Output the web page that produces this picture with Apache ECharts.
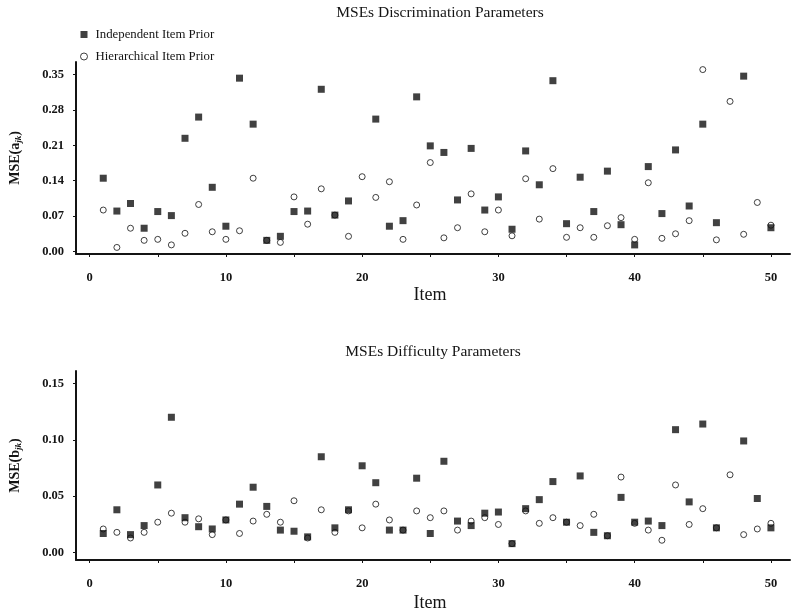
<!DOCTYPE html>
<html>
<head>
<meta charset="utf-8">
<script src="https://cdn.jsdelivr.net/npm/echarts@6/dist/echarts.min.js"></script>
<style>
  html, body { margin: 0; padding: 0; background: #fff; }
  #chart { width: 792px; height: 613px; }
</style>
</head>
<body>
<div id="chart"></div>
<script>
// Item numbers on the horizontal axes
const items = [1,2,3,4,5,6,7,8,9,10,11,12,13,14,15,16,17,18,19,20,
               21,22,23,24,25,26,27,28,29,30,31,32,33,34,35,36,37,38,39,40,
               41,42,43,44,45,46,47,48,49,50];

// MSE of discrimination parameters a_jk (null = not plotted)
const discIndependent = [0.145,0.080,0.095,0.046,0.079,0.071,0.224,0.266,0.127,0.050,
                         0.343,0.252,0.022,0.030,0.079,0.080,0.321,0.072,0.100,null,
                         0.262,0.050,0.061,0.306,0.209,0.196,0.102,0.204,0.082,0.108,
                         0.044,0.199,0.132,0.338,0.055,0.147,0.079,0.159,0.053,0.013,
                         0.168,0.075,0.201,0.090,0.252,0.057,null,0.347,null,0.047];
const discHierarchical = [0.082,0.008,0.046,0.022,0.024,0.013,0.036,0.093,0.039,0.024,
                          0.041,0.145,0.022,0.018,0.108,0.054,0.124,0.072,0.030,0.148,
                          0.107,0.138,0.024,0.092,0.176,0.027,0.047,0.114,0.039,0.082,
                          0.031,0.144,0.064,0.164,0.028,0.047,0.028,0.051,0.067,0.024,
                          0.136,0.026,0.035,0.061,0.360,0.023,0.297,0.034,0.097,0.052];

// MSE of difficulty parameters b_jk
const diffIndependent = [0.017,0.038,0.016,0.024,0.060,0.120,0.031,0.023,0.021,0.029,
                         0.043,0.058,0.041,0.020,0.019,0.014,0.085,0.022,0.038,0.077,
                         0.062,0.020,0.020,0.066,0.017,0.081,0.028,0.024,0.035,0.036,
                         0.008,0.039,0.047,0.063,0.027,0.068,0.018,0.015,0.049,0.027,
                         0.028,0.024,0.109,0.045,0.114,0.022,null,0.099,0.048,0.022];
const diffHierarchical = [0.021,0.018,0.013,0.018,0.027,0.035,0.027,0.030,0.016,0.029,
                          0.017,0.028,0.034,0.027,0.046,0.013,0.038,0.018,0.037,0.022,
                          0.043,0.029,0.020,0.037,0.031,0.037,0.020,0.028,0.031,0.025,
                          0.008,0.037,0.026,0.031,0.027,0.024,0.034,0.015,0.067,0.026,
                          0.020,0.011,0.060,0.025,0.039,0.022,0.069,0.016,0.021,0.026];

// Tick positions and labels
const itemTicks = [0,5,10,15,20,25,30,35,40,45,50];
const itemLabels = [0,10,20,30,40,50];
const discTicks = [0.00,0.07,0.14,0.21,0.28,0.35];
const diffTicks = [0.00,0.05,0.10,0.15];

const SERIF = '"Liberation Serif", "Times New Roman", serif';
const INK = '#141414';

function pairs(values) {
  return items.map((it, i) => [it, values[i]]).filter(p => p[1] !== null);
}

function xAxisFor(gridIndex, nameGap) {
  return {
    gridIndex, type: 'value', min: -1, max: 51.4,
    name: 'Item', nameLocation: 'middle', nameGap,
    nameTextStyle: { fontFamily: SERIF, fontSize: 18, color: INK, padding: [0, 6, 0, 0] },
    axisLine: { show: true, onZero: false, lineStyle: { color: INK, width: 2 } },
    axisTick: { show: true, customValues: itemTicks, length: 3, lineStyle: { color: INK, width: 1 } },
    axisLabel: { customValues: itemLabels, margin: 17, fontFamily: SERIF, fontWeight: 'bold', fontSize: 12.5, color: INK },
    splitLine: { show: false }
  };
}

function yAxisFor(gridIndex, min, max, ticks, letter) {
  return {
    gridIndex, type: 'value', min, max,
    name: '{m|MSE(' + letter + '}{s|jk}{m|)}', nameLocation: 'middle', nameGap: 53,
    nameTextStyle: {
      rich: {
        m: { fontFamily: SERIF, fontWeight: 'bold', fontSize: 14, color: INK },
        s: { fontFamily: SERIF, fontWeight: 'bold', fontStyle: 'italic', fontSize: 9, color: INK, padding: [7, 0, 0, 0] }
      }
    },
    axisLine: { show: true, onZero: false, lineStyle: { color: INK, width: 2 } },
    axisTick: { show: true, customValues: ticks, length: 3, lineStyle: { color: INK, width: 1 } },
    axisLabel: {
      customValues: ticks, margin: 12, fontFamily: SERIF, fontWeight: 'bold', fontSize: 12.5, color: INK,
      formatter: v => v.toFixed(2)
    },
    splitLine: { show: false }
  };
}

const squareStyle = { color: '#111' };
const circleStyle = { color: '#fff', borderColor: '#111', borderWidth: 1 };

const chart = echarts.init(document.getElementById('chart'), null, { renderer: 'canvas' });
chart.setOption({
  animation: false,
  backgroundColor: '#fff',
  graphic: [
    { type: 'text', x: 440, y: 13, style: { text: 'MSEs Discrimination Parameters', font: '15.5px ' + SERIF, fill: INK, align: 'center', verticalAlign: 'middle', textAlign: 'center', textVerticalAlign: 'middle' } },
    { type: 'text', x: 433, y: 352, style: { text: 'MSEs Difficulty Parameters', font: '15.5px ' + SERIF, fill: INK, align: 'center', verticalAlign: 'middle', textAlign: 'center', textVerticalAlign: 'middle' } }
  ],
  legend: {
    orient: 'vertical', left: 80, top: 28, padding: 0, itemWidth: 7, itemHeight: 7, itemGap: 9,
    textStyle: { fontFamily: SERIF, fontSize: 12.8, color: INK, padding: [0, 0, 0, 3] },
    data: [
      { name: 'Independent Item Prior', icon: 'rect', itemStyle: { color: '#111' } },
      { name: 'Hierarchical Item Prior', icon: 'circle', itemStyle: { color: '#fff', borderColor: '#111', borderWidth: 1 } }
    ]
  },
  grid: [
    { left: 68, right: 2, top: 62, height: 192 },
    { left: 68, right: 2, top: 371, height: 193 }
  ],
  xAxis: [xAxisFor(0, 32), xAxisFor(1, 34)],
  yAxis: [
    yAxisFor(0, -0.005, 0.375, discTicks, 'a'),
    yAxisFor(1, -0.0065, 0.161, diffTicks, 'b')
  ],
  series: [
    { name: 'Hierarchical Item Prior', type: 'scatter', xAxisIndex: 0, yAxisIndex: 0, symbol: 'circle', symbolSize: 6, itemStyle: circleStyle, data: pairs(discHierarchical), z: 2 },
    { name: 'Independent Item Prior', type: 'scatter', xAxisIndex: 0, yAxisIndex: 0, symbol: 'rect', symbolSize: 7, itemStyle: squareStyle, data: pairs(discIndependent), z: 3 },
    { name: 'Hierarchical Item Prior', type: 'scatter', xAxisIndex: 1, yAxisIndex: 1, symbol: 'circle', symbolSize: 6, itemStyle: circleStyle, data: pairs(diffHierarchical), z: 2 },
    { name: 'Independent Item Prior', type: 'scatter', xAxisIndex: 1, yAxisIndex: 1, symbol: 'rect', symbolSize: 7, itemStyle: squareStyle, data: pairs(diffIndependent), z: 3 }
  ]
});
</script>
</body>
</html>
